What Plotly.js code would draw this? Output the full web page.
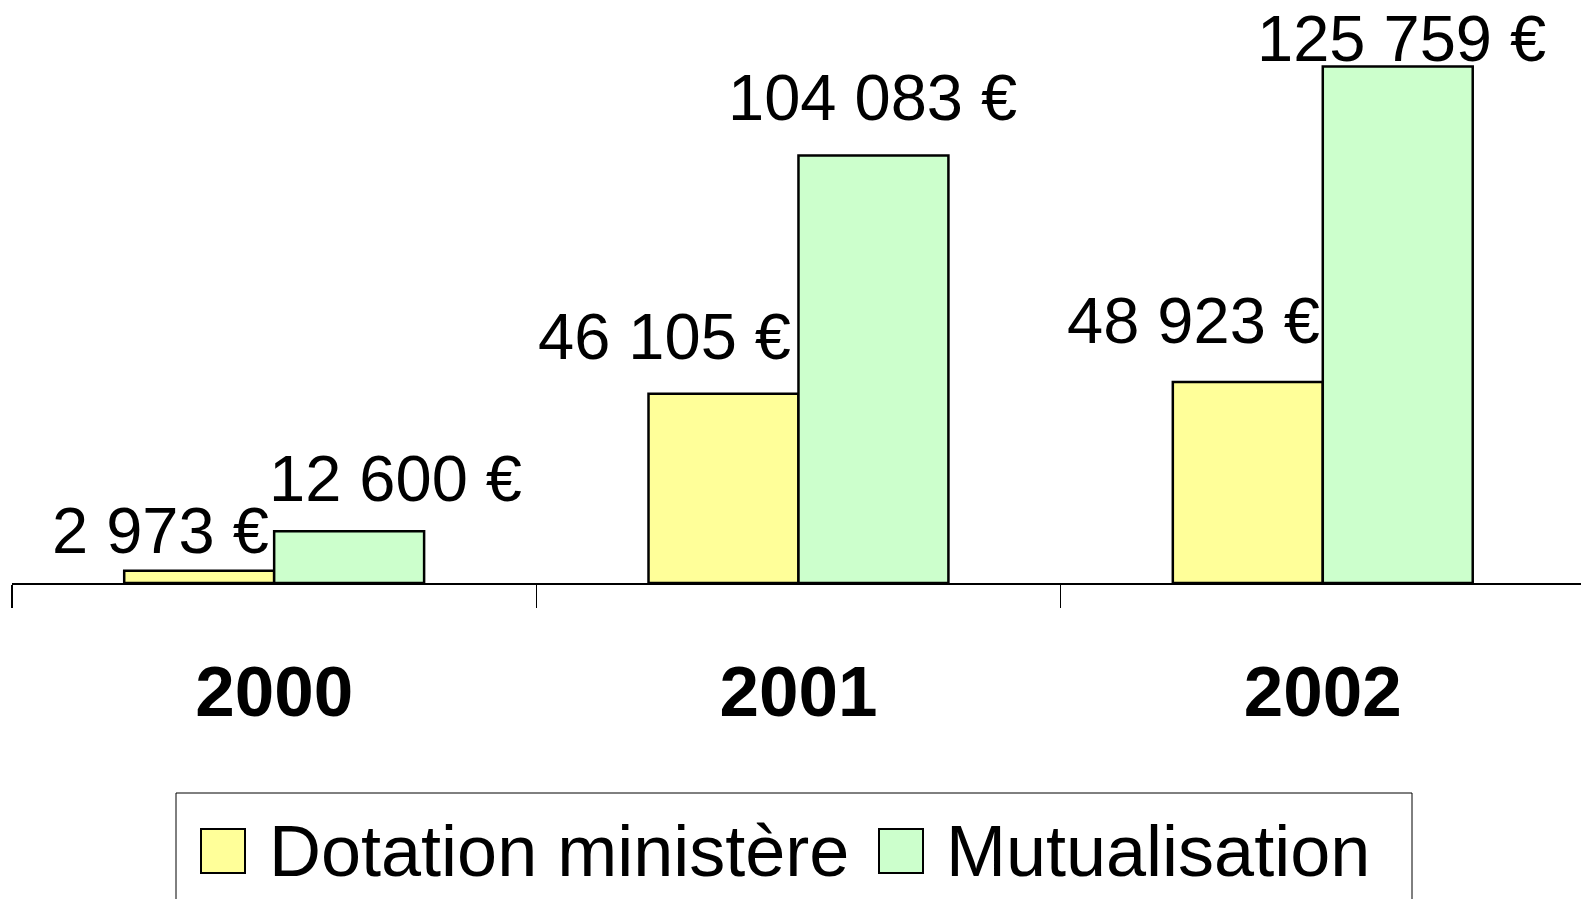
<!DOCTYPE html>
<html>
<head>
<meta charset="utf-8">
<script src="https://cdn.plot.ly/plotly-3.0.1.min.js"></script>
<style>html,body{margin:0;padding:0;background:#fff;}#chart{width:1581px;height:899px;}</style>
</head>
<body>
<div id="chart"></div>
<script>
// ---- data ----
var years = ['2000', '2001', '2002'];
var seriesNames = ['Dotation ministère', 'Mutualisation'];
var dotation = [2973, 46105, 48923];
var mutualisation = [12600, 104083, 125759];
var dotationLabels = ['2 973 €', '46 105 €', '48 923 €'];
var mutualisationLabels = ['12 600 €', '104 083 €', '125 759 €'];

// ---- styling / placement ----
var colors = ['#FFFF99', '#CCFFCC'];
var labelFont = {family: 'Liberation Sans, Arial, sans-serif', size: 65, color: '#000'};
// label horizontal offsets (category units) and vertical shifts (px), manual placement as in the original
var dotXOff = [-0.216, -0.255, -0.247];
var dotYShift = [40, 57, 62];
var mutXOff = [0.232, 0.142, 0.150];
var mutYShift = [53, 58, 28];

var W = 1581, H = 899;
var mL = 12, mR = 0, mT = 8, mB = 316;
var plotW = W - mL - mR, plotH = H - mT - mB;
function px(x) { return (x - mL) / plotW; }
function py(y) { return (H - mB - y) / plotH; }

var traces = [
  {type: 'bar', x: years, y: dotation, name: seriesNames[0], showlegend: false,
   marker: {color: colors[0], line: {color: '#000', width: 2.5}}, hoverinfo: 'none'},
  {type: 'bar', x: years, y: mutualisation, name: seriesNames[1], showlegend: false,
   marker: {color: colors[1], line: {color: '#000', width: 2.5}}, hoverinfo: 'none'}
];

var annotations = [];
for (var i = 0; i < years.length; i++) {
  annotations.push({x: i + dotXOff[i], y: dotation[i], xref: 'x', yref: 'y', text: dotationLabels[i],
    showarrow: false, xanchor: 'center', yanchor: 'middle', yshift: dotYShift[i], font: labelFont});
  annotations.push({x: i + mutXOff[i], y: mutualisation[i], xref: 'x', yref: 'y', text: mutualisationLabels[i],
    showarrow: false, xanchor: 'center', yanchor: 'middle', yshift: mutYShift[i], font: labelFont});
}

// custom legend (large symbols as in original)
var legFont = {family: 'Liberation Sans, Arial, sans-serif', size: 72, color: '#000'};
var shapes = [
  {type: 'rect', xref: 'paper', yref: 'paper', x0: px(176), x1: px(1412), y0: py(793), y1: py(920),
   line: {color: '#000', width: 1}, fillcolor: 'rgba(0,0,0,0)'},
  {type: 'rect', xref: 'paper', yref: 'paper', x0: px(201), x1: px(245), y0: py(829), y1: py(873),
   line: {color: '#000', width: 2}, fillcolor: colors[0]},
  {type: 'rect', xref: 'paper', yref: 'paper', x0: px(879), x1: px(923), y0: py(829), y1: py(873),
   line: {color: '#000', width: 2}, fillcolor: colors[1]}
];
annotations.push({xref: 'paper', yref: 'paper', x: px(267), y: py(851), text: seriesNames[0],
  showarrow: false, xanchor: 'left', yanchor: 'middle', font: legFont});
annotations.push({xref: 'paper', yref: 'paper', x: px(944), y: py(851), text: seriesNames[1],
  showarrow: false, xanchor: 'left', yanchor: 'middle', font: legFont});

var layout = {
  width: W, height: H,
  margin: {l: mL, r: mR, t: mT, b: mB, pad: 0},
  paper_bgcolor: '#fff', plot_bgcolor: '#fff',
  barmode: 'group', bargap: 0.428, bargroupgap: 0,
  showlegend: false,
  xaxis: {
    type: 'category', range: [-0.5, 2.4925],
    showline: true, linecolor: '#000', linewidth: 2,
    ticks: 'outside', tickson: 'boundaries', ticklen: 23, tickcolor: '#000', tickwidth: 1.5,
    tickfont: {family: 'Liberation Sans, Arial, sans-serif', size: 71, color: '#000', weight: 'bold'},
    ticklabelstandoff: 46,
    showgrid: false, zeroline: false, fixedrange: true
  },
  yaxis: {range: [0, 140000], visible: false, showgrid: false, zeroline: false, fixedrange: true},
  annotations: annotations,
  shapes: shapes
};

Plotly.newPlot('chart', traces, layout, {staticPlot: true});
</script>
</body>
</html>
